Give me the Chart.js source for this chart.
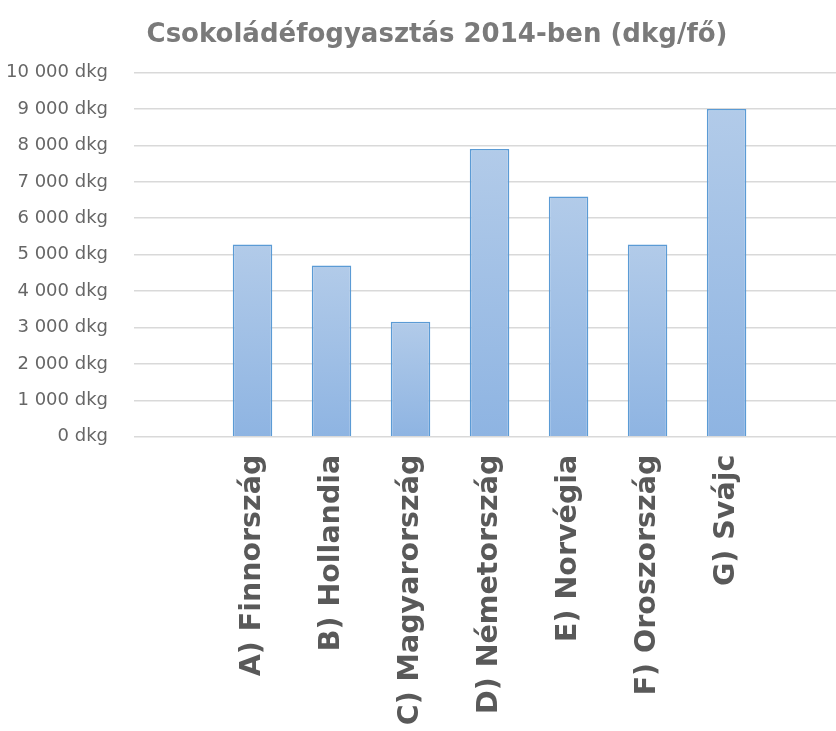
<!DOCTYPE html>
<html>
<head>
<meta charset="utf-8">
<script src="https://cdn.jsdelivr.net/npm/chart.js@4/dist/chart.umd.min.js"></script>
<style>
  html, body { margin: 0; padding: 0; background: #fff; }
  #wrap { width: 836px; height: 731px; overflow: hidden; position: relative; }
  canvas { display: block; }
</style>
</head>
<body>
<div id="wrap"><canvas id="chart" width="850" height="780"></canvas></div>
<script>
// adatok - az első és utolsó kategória üres (Excel-ben is így volt)
const categories = ['', 'A) Finnország', 'B) Hollandia', 'C) Magyarország', 'D) Németország',
                    'E) Norvégia', 'F) Oroszország', 'G) Svájc', ''];
const consumption = [null, 5280, 4700, 3160, 7900, 6600, 5280, 9000, null];
const yMin = 0;
const yMax = 10000;
const yStep = 1000;
const unit = 'dkg';
const chartTitle = 'Csokoládéfogyasztás 2014-ben (dkg/fő)';

const fontFamily = "'Comic Sans MS', 'DejaVu Sans', sans-serif";

function fmt(v) {
    return String(v).replace(/\B(?=(\d{3})+(?!\d))/g, ' ') + ' ' + unit;
}

function barGradient(ctx) {
    const chart = ctx.chart;
    const v = consumption[ctx.dataIndex];
    const y = chart.scales.y;
    if (v == null || !y || !chart.chartArea) return '#a3c0e6';
    const top = y.getPixelForValue(v);
    const base = y.getPixelForValue(0);
    const g = chart.ctx.createLinearGradient(0, top, 0, base);
    g.addColorStop(0, '#b2cbe9');
    g.addColorStop(1, '#8eb4e2');
    return g;
}

// cím kézzel rajzolva, mert az Excel-es cím nem a vászon közepén van
const titlePlugin = {
    id: 'ownTitle',
    afterDraw(chart) {
        const c = chart.ctx;
        c.save();
        c.font = 'bold 26px ' + fontFamily;
        c.fillStyle = '#7a7a7a';
        c.textAlign = 'center';
        c.textBaseline = 'middle';
        c.fillText(chartTitle, 437, 35);
        c.restore();
    }
};

new Chart(document.getElementById('chart'), {
    type: 'bar',
    data: {
        labels: categories,
        datasets: [{
            data: consumption,
            backgroundColor: barGradient,
            borderColor: '#5b9bd5',
            borderWidth: 1.5,
            barPercentage: 0.5,
            categoryPercentage: 1.0
        }]
    },
    plugins: [titlePlugin],
    options: {
        responsive: false,
        animation: false,
        devicePixelRatio: 1,
        layout: { padding: { left: 0, right: 4, top: 72.6, bottom: 0 } },
        plugins: {
            legend: { display: false },
            tooltip: { enabled: false },
            title: { display: false }
        },
        scales: {
            x: {
                grid: { display: false },
                border: { display: false },
                ticks: {
                    autoSkip: false,
                    maxRotation: 90,
                    minRotation: 90,
                    padding: 10,
                    color: '#595959',
                    font: { family: fontFamily, size: 28.5, weight: 'bold' }
                },
                afterFit: (scale) => { scale.height = 780 - 436.7; }
            },
            y: {
                min: yMin,
                max: yMax,
                grid: { color: '#d9d9d9', lineWidth: 1.5, drawTicks: false },
                border: { display: false },
                ticks: {
                    stepSize: yStep,
                    padding: 26,
                    color: '#666666',
                    font: { family: fontFamily, size: 18 },
                    callback: (v) => fmt(v)
                },
                afterFit: (scale) => { scale.width = 134; }
            }
        }
    }
});
</script>
</body>
</html>
